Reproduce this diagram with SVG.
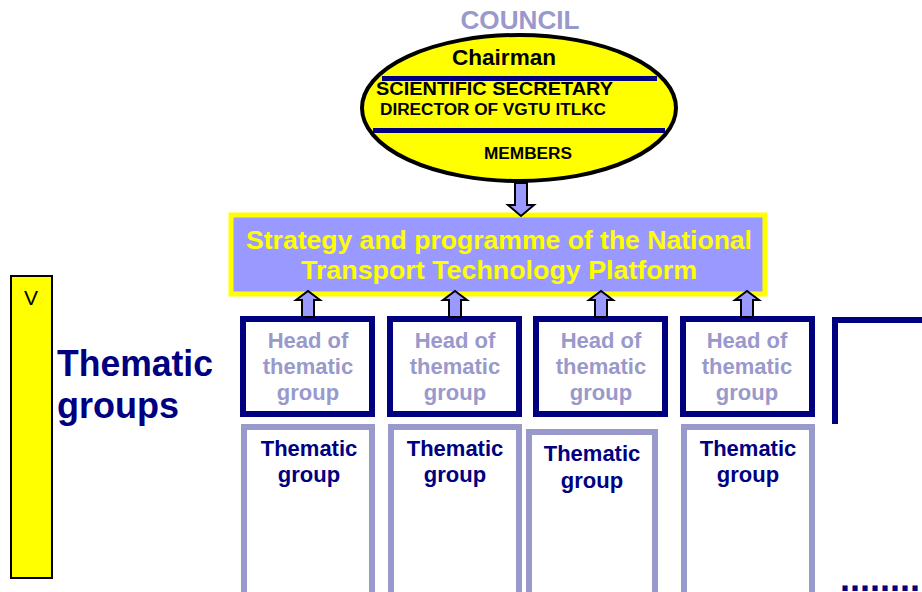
<svg xmlns="http://www.w3.org/2000/svg" width="922" height="592" viewBox="0 0 922 592">
<style>
text{font-family:"Liberation Sans",Arial,sans-serif;font-weight:bold}
.head{fill:#fff;stroke:#000080;stroke-width:6}
.tg{fill:#fff;stroke:#9999cc;stroke-width:6}
.ht{fill:#9999cc;font-size:22px;text-anchor:middle}
.gt{fill:#000080;font-size:22px;text-anchor:middle}
.arr{fill:#9999ff;stroke:#000;stroke-width:2}
</style>
<rect width="922" height="592" fill="#fff"/>
<g id="council">
<text x="520" y="29" font-size="25" fill="#9999cc" text-anchor="middle" textLength="119" lengthAdjust="spacingAndGlyphs">COUNCIL</text>
<ellipse cx="519" cy="108" rx="157" ry="73" fill="#ffff00" stroke="#000" stroke-width="4"/>
<rect x="382" y="76" width="275" height="5" fill="#000080"/>
<rect x="373" y="128" width="292" height="5" fill="#000080"/>
<text x="504" y="65" font-size="22" text-anchor="middle" textLength="104" lengthAdjust="spacingAndGlyphs">Chairman</text>
<text x="376" y="95" font-size="18.5" textLength="237" lengthAdjust="spacingAndGlyphs">SCIENTIFIC SECRETARY</text>
<text x="380" y="115" font-size="16" textLength="226" lengthAdjust="spacingAndGlyphs">DIRECTOR OF VGTU ITLKC</text>
<text x="528" y="159" font-size="16" text-anchor="middle" textLength="88" lengthAdjust="spacingAndGlyphs">MEMBERS</text>
</g>
<g id="strategy">
<rect x="231" y="215" width="534" height="79" fill="#9999ff" stroke="#ffff00" stroke-width="5"/>
<text x="499" y="249" font-size="25" fill="#ffff00" text-anchor="middle" textLength="506" lengthAdjust="spacingAndGlyphs">Strategy and programme of the National</text>
<text x="499" y="279" font-size="25" fill="#ffff00" text-anchor="middle" textLength="396" lengthAdjust="spacingAndGlyphs">Transport Technology Platform</text>
</g>
<g id="side">
<rect x="11" y="276" width="41" height="302" fill="#ffff00" stroke="#000" stroke-width="2"/>
<text x="31" y="305" font-size="21" style="font-weight:normal" text-anchor="middle">V</text>
<text x="57" y="376" font-size="36" fill="#000080" textLength="156" lengthAdjust="spacingAndGlyphs">Thematic</text>
<text x="57" y="418" font-size="36" fill="#000080">groups</text>
</g>
<g id="head1"><rect class="head" x="243" y="319" width="129" height="95"/>
<text class="ht" x="308" y="348">Head of</text><text class="ht" x="308" y="374">thematic</text><text class="ht" x="308" y="400">group</text></g>
<g id="head2"><rect class="head" x="390" y="319" width="129" height="95"/>
<text class="ht" x="455" y="348">Head of</text><text class="ht" x="455" y="374">thematic</text><text class="ht" x="455" y="400">group</text></g>
<g id="head3"><rect class="head" x="536" y="319" width="129" height="95"/>
<text class="ht" x="601" y="348">Head of</text><text class="ht" x="601" y="374">thematic</text><text class="ht" x="601" y="400">group</text></g>
<g id="head4"><rect class="head" x="683" y="319" width="129" height="95"/>
<text class="ht" x="747" y="348">Head of</text><text class="ht" x="747" y="374">thematic</text><text class="ht" x="747" y="400">group</text></g>
<g id="head5"><path d="M835 424 V320 H922" fill="none" stroke="#000080" stroke-width="6"/></g>
<g id="group1"><rect class="tg" x="244" y="427" width="128" height="170"/>
<text class="gt" x="309" y="456">Thematic</text><text class="gt" x="309" y="482">group</text></g>
<g id="group2"><rect class="tg" x="391" y="427" width="128" height="170"/>
<text class="gt" x="455" y="456">Thematic</text><text class="gt" x="455" y="482">group</text></g>
<g id="group3"><rect class="tg" x="529" y="432" width="126" height="165"/>
<text class="gt" x="592" y="461">Thematic</text><text class="gt" x="592" y="488">group</text></g>
<g id="group4"><rect class="tg" x="684" y="427" width="128" height="170"/>
<text class="gt" x="748" y="456">Thematic</text><text class="gt" x="748" y="482">group</text></g>
<g id="more"><text x="840" y="591" font-size="36" fill="#000080">........</text></g>
<g id="connectors">
<path class="arr" d="M515 183 V205 H508 L521 216 L534 205 H527 V183 Z"/>
<path class="arr" d="M302 317 V300 H296 L308 291 L320 300 H314 V317 Z"/>
<path class="arr" d="M449 317 V300 H443 L455 291 L467 300 H461 V317 Z"/>
<path class="arr" d="M595 317 V300 H589 L601 291 L613 300 H607 V317 Z"/>
<path class="arr" d="M741 317 V300 H735 L747 291 L759 300 H753 V317 Z"/>
</g>
</svg>
